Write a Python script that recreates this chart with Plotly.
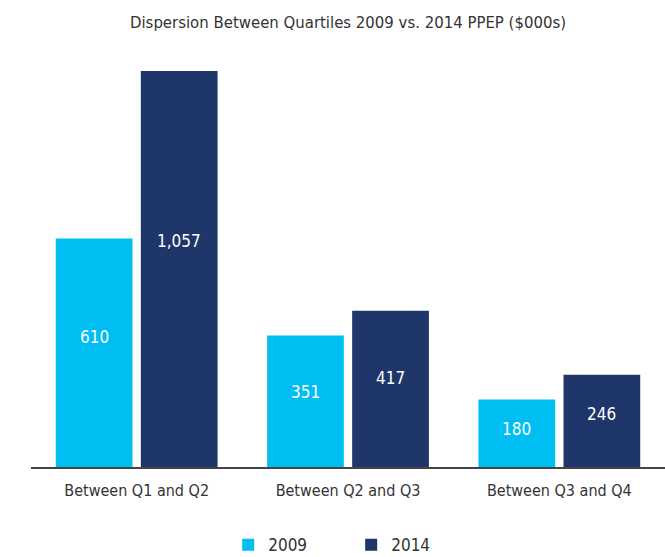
import plotly.graph_objects as go

categories = ["Between Q1 and Q2", "Between Q2 and Q3", "Between Q3 and Q4"]
series_names = ["2009", "2014"]
values_2009 = [610, 351, 180]
values_2014 = [1057, 417, 246]
colors = ["#00BEF2", "#1F366B"]

FONT = "DejaVu Sans Condensed, sans-serif"
LABEL_FRAC = 0.57      # value labels sit a little above the middle of each bar
SLOT_PX = 42.5         # half a bar slot, used to centre labels over each bar

fig = go.Figure()
for name, vals, col in zip(series_names, [values_2009, values_2014], colors):
    fig.add_trace(go.Bar(
        x=categories, y=vals, name=name, marker_color=col,
        marker_line_width=0,
    ))

# value labels inside the bars
for vals, sign in zip([values_2009, values_2014], [-1, 1]):
    for cat, v in zip(categories, vals):
        fig.add_annotation(
            x=cat, y=v * LABEL_FRAC, xref="x", yref="y",
            xshift=sign * SLOT_PX, text=f"{v:,}", showarrow=False,
            font=dict(family=FONT, size=17, color="white"),
        )

fig.update_layout(
    width=665, height=557,
    margin=dict(l=31, r=0, t=55, b=90, autoexpand=False),
    paper_bgcolor="white", plot_bgcolor="white",
    barmode="group", bargap=0.195, bargroupgap=0.098,
    title=dict(text="Dispersion Between Quartiles 2009 vs. 2014 PPEP ($000s)",
               xref="paper", x=0.5, xanchor="center", y=0.96, yanchor="middle",
               font=dict(family=FONT, size=16.6, color="#333333")),
    font=dict(family=FONT, color="#333333"),
    showlegend=True,
    legend=dict(orientation="h", x=0.311, xanchor="left", y=-0.19,
                yanchor="middle", font=dict(family=FONT, size=17, color="#333333"),
                itemwidth=30, entrywidth=78, entrywidthmode="pixels",
                tracegroupgap=0),
)
fig.update_xaxes(showline=True, linecolor="#444444", linewidth=1.5,
                 tickfont=dict(family=FONT, size=16, color="#333333"),
                 ticklabelstandoff=8, ticks="", showgrid=False,
                 automargin=False)
fig.update_yaxes(range=[0, 1100], visible=False, showgrid=False,
                 automargin=False)

fig.write_html("out.html")
